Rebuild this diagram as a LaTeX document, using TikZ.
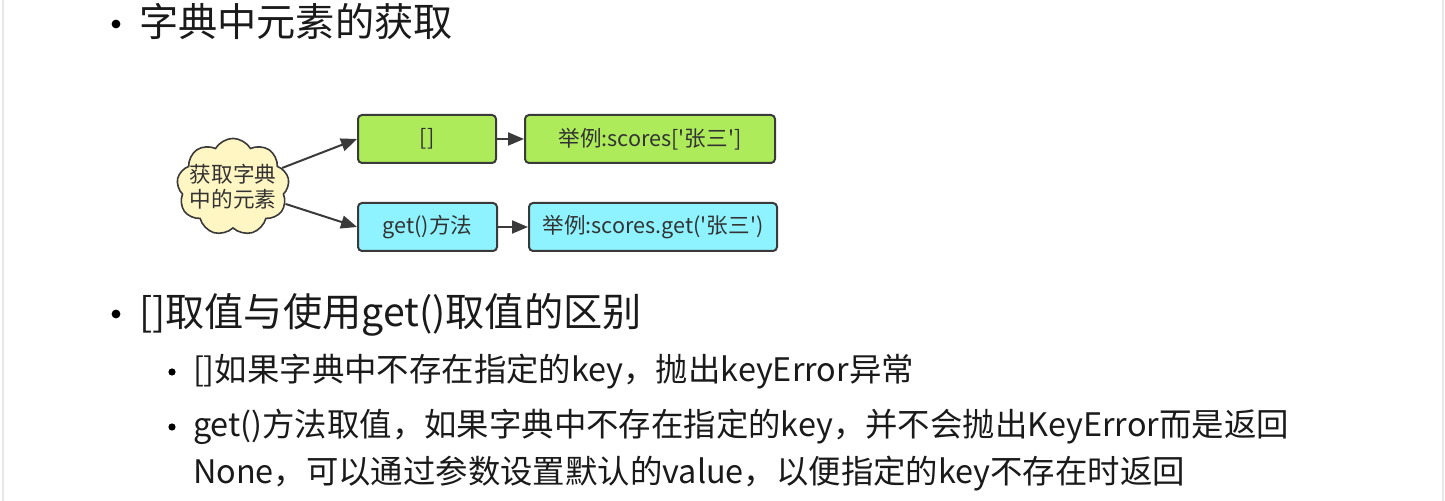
\documentclass[tikz,border=0pt]{standalone}
\usepackage{fontspec}
\setmainfont{Noto Sans CJK SC}[Ligatures=TeXOff]
\usepackage{tikz}
\usetikzlibrary{shapes.symbols,arrows.meta,positioning}
\definecolor{boxgreen}{HTML}{ADEB5B}
\definecolor{boxcyan}{HTML}{8EF3FE}
\definecolor{cloudyellow}{HTML}{FFF6C4}
\definecolor{linegray}{HTML}{3A3A3A}
\definecolor{textgray}{HTML}{333333}
\definecolor{inkblack}{HTML}{1A1A1A}
\tikzset{
>={Triangle[length=8pt,width=6.5pt]}, % filled arrow heads as in the mind map
bigtext/.style={anchor=base west, inner sep=0pt, text=inkblack, font=\fontsize{19.6pt}{23pt}\selectfont}, % first level points
smalltext/.style={anchor=base west, inner sep=0pt, text=inkblack, font=\fontsize{16.2pt}{19pt}\selectfont}, % second level points
mapbox/.style={draw=linegray, line width=1pt, rounded corners=2pt, minimum height=24pt, inner sep=0pt, text=textgray, font=\fontsize{10.8pt}{12pt}\selectfont}, % boxes of the map
idea/.style={cloud, cloud puffs=9, cloud puff arc=120, aspect=1.25, draw=linegray, line width=0.8pt, fill=cloudyellow, inner sep=-3.5pt, align=center, text=textgray, font=\fontsize{10.8pt}{12.5pt}\selectfont} % the cloud
}

\begin{document}
\begin{tikzpicture}[x=0.5pt,y=-0.5pt]
        \useasboundingbox (0,0) rectangle (1445,501);
        \tikzstyle{every path}+=[line width=1pt]
        % slide edges
        \draw [black!9, line width=0.6pt] (3,0) -- (3,501);
        \draw [black!9, line width=0.6pt] (1443,0) -- (1443,501);
        % first point
        \fill [black] (116,24) circle (2.2pt);
        \node [bigtext] (title) at (138,37) {字典中元素的获取};
        % mind map
        \node [idea] (get) at (233,187) {获取字典\\中的元素};
        \node [mapbox, fill=boxgreen, minimum width=69pt] (brk) at (427,139) {[]};
        \node [mapbox, fill=boxgreen, minimum width=125pt] (brkex) at (650,139) {举例:scores['张三']};
        \node [mapbox, fill=boxcyan, minimum width=69.5pt] (getm) at (427.5,227) {get()方法};
        \node [mapbox, fill=boxcyan, minimum width=124pt] (getex) at (653,227) {举例:scores.get('张三')};
        \draw [->, linegray] (get) -- (brk.west);
        \draw [->, linegray] (get) -- (getm.west);
        \draw [->, linegray] (brk) -- (brkex);
        \draw [->, linegray] (getm) -- (getex);
        % second point
        \fill [black] (116,314) circle (2.2pt);
        \node [bigtext] (diff) at (138,327) {[]取值与使用get()取值的区别};
        \fill [black] (172,372) circle (1.8pt);
        \node [smalltext] (sub1) at (192,382) {[]如果字典中不存在指定的key，抛出keyError异常};
        \fill [black] (172,427) circle (1.8pt);
        \node [smalltext] (sub2) at (192,437) {get()方法取值，如果字典中不存在指定的key，并不会抛出KeyError而是返回};
        \node [smalltext] (sub2b) at (192,484) {None，可以通过参数设置默认的value，以便指定的key不存在时返回};
\end{tikzpicture}
\end{document}
